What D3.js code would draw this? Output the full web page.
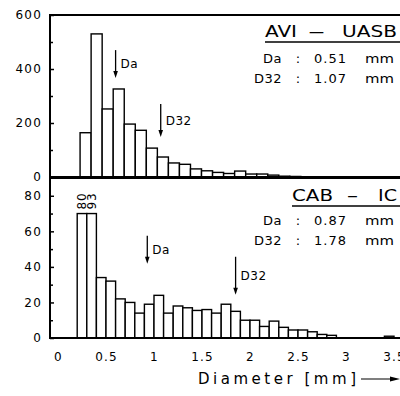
<!DOCTYPE html>
<html>
<head>
<meta charset="utf-8">
<script src="https://cdn.jsdelivr.net/npm/d3@7"></script>
<style>
  body { margin: 0; background: #fff; }
  text { font-family: "DejaVu Sans", sans-serif; fill: #000; }
</style>
</head>
<body>
<div id="chart"></div>
<script>
// ---- data ----
// AVI - UASB histogram (top panel)
const topBinStart = 0.23, topBinWidth = 0.115;
const topCounts = [164, 530, 252, 326, 196, 173, 107, 74, 52, 47, 30, 23, 17, 13, 22, 11, 11, 7, 3, 2, 1];
const topStats = [["Da", "0.51"], ["D32", "1.07"]];
const topMarks = [{ name: "Da", d: 0.6, tail: 470, tip: 367 }, { name: "D32", d: 1.07, tail: 270, tip: 148 }];

// CAB - IC histogram (bottom panel)
const botBinStart = 0.2, botBinWidth = 0.1;
const botCounts = [80, 93, 34, 32, 22, 20, 14, 19, 24, 14, 18, 17, 15.5, 16, 14, 19, 15, 10, 10, 6.5, 9.5, 6, 4.5, 4.5, 3.5, 2, 1.5, 0, 0, 0, 0, 0, 1];
const botCap = 70;
const botStats = [["Da", "0.87"], ["D32", "1.78"]];
const botMarks = [{ name: "Da", d: 0.93, tail: 57.5, tip: 41.8 }, { name: "D32", d: 1.85, tail: 45.7, tip: 24.3 }];

const xTicks = [0, 0.5, 1, 1.5, 2, 2.5, 3, 3.5];
const topYTicks = [0, 200, 400, 600], topYMinor = [100, 300, 500];
const botYTicks = [0, 20, 40, 60, 80], botYMinor = [10, 30, 50, 70];

// ---- canvas ----
const W = 400, H = 396;
const svg = d3.select('#chart').append('svg').attr('width', W).attr('height', H);

const left = 50, right = 404;
const x = d3.scaleLinear().domain([0, 3.5]).range([58, 394]);
const yTop = d3.scaleLinear().domain([0, 600]).range([177, 15]);
const yBot = d3.scaleLinear().domain([0, 90]).range([338, 178]);

function yAxis(y, ticks, minor) {
  svg.append('g')
    .attr('transform', `translate(${left},0)`)
    .call(d3.axisLeft(y).tickValues(ticks).tickSizeInner(-4).tickSizeOuter(0).tickPadding(8))
    .call(g => g.select('.domain').remove())
    .call(g => g.selectAll('line').attr('stroke-width', 1.5))
    .call(g => g.selectAll('text').attr('font-size', 12).attr('letter-spacing', 1.2).attr('font-family', 'DejaVu Sans'));
  svg.append('g')
    .attr('transform', `translate(${left},0)`)
    .call(d3.axisLeft(y).tickValues(minor).tickSizeInner(-3).tickSizeOuter(0).tickFormat(''))
    .call(g => g.select('.domain').remove())
    .call(g => g.selectAll('line').attr('stroke-width', 1.5));
}

function bars(y, counts, start, width, cap) {
  const data = counts.map((c, i) => ({ x0: start + i * width, c: c })).filter(d => d.c > 0);
  svg.append('g').selectAll('rect').data(data).join('rect')
    .attr('x', d => x(d.x0))
    .attr('width', d => x(d.x0 + width) - x(d.x0))
    .attr('y', d => y(cap ? Math.min(d.c, cap) : d.c))
    .attr('height', d => y(0) - y(cap ? Math.min(d.c, cap) : d.c))
    .attr('fill', '#fff').attr('stroke', '#000').attr('stroke-width', 1.4);
  return data;
}

function arrow(x1, y1, y2) {
  svg.append('line').attr('x1', x1).attr('x2', x1).attr('y1', y1).attr('y2', y2 - 5)
    .attr('stroke', '#000').attr('stroke-width', 1.3);
  svg.append('path').attr('d', `M${x1 - 2.3},${y2 - 7}L${x1 + 2.3},${y2 - 7}L${x1},${y2}Z`).attr('fill', '#000');
}

function marks(y, list) {
  list.forEach(m => {
    arrow(x(m.d), y(m.tail), y(m.tip));
    svg.append('text').attr('x', x(m.d) + 5).attr('y', (y(m.tail) + y(m.tip)) / 2)
      .attr('dy', '0.35em').attr('font-size', 12).attr('letter-spacing', 0.5).text(m.name);
  });
}

function stats(list, base) {
  list.forEach((s, i) => {
    const yy = base + i * 20;
    svg.append('text').attr('x', 282).attr('y', yy).attr('text-anchor', 'end').attr('font-size', 13).attr('letter-spacing', 0.5).text(s[0]);
    svg.append('text').attr('x', 298).attr('y', yy).attr('text-anchor', 'middle').attr('font-size', 13).text(':');
    svg.append('text').attr('x', 347).attr('y', yy).attr('text-anchor', 'end').attr('font-size', 13).attr('letter-spacing', 1).text(s[1]);
    svg.append('text').attr('x', 365).attr('y', yy).attr('font-size', 13).attr('textLength', 29).attr('lengthAdjust', 'spacingAndGlyphs').text('mm');
  });
}

function title(parts, base) {
  parts.forEach(p => {
    svg.append('text').attr('x', p[1]).attr('y', base).attr('font-size', 16)
      .attr('textLength', p[2] - p[1]).attr('lengthAdjust', 'spacingAndGlyphs').text(p[0]);
  });
  svg.append('line').attr('x1', parts[0][1]).attr('x2', W + 2).attr('y1', base + 5).attr('y2', base + 5)
    .attr('stroke', '#000').attr('stroke-width', 1.5);
}

// ---- top panel ----
bars(yTop, topCounts, topBinStart, topBinWidth);
yAxis(yTop, topYTicks, topYMinor);
marks(yTop, topMarks);
stats(topStats, 63);
title([['AVI', 265, 297], ['–', 308, 325], ['UASB', 342, 397]], 37);

// ---- bottom panel ----
const botData = bars(yBot, botCounts, botBinStart, botBinWidth, botCap);
yAxis(yBot, botYTicks, botYMinor);
marks(yBot, botMarks);
stats(botStats, 225);
title([['CAB', 292, 333], ['–', 347, 358], ['IC', 378, 397]], 201);

// clipped bars get their value written above
botData.filter(d => d.c > botCap).forEach(d => {
  const cx = x(d.x0 + botBinWidth / 2);
  svg.append('text').attr('transform', `translate(${cx},${yBot(botCap) - 4}) rotate(-90)`)
    .attr('dy', '0.36em').attr('font-size', 12).attr('letter-spacing', 0.8).text(d.c);
});

// frames
[[15, 177], [178, 338]].forEach(r => {
  svg.append('path').attr('d', `M${right},${r[0]}H${left}V${r[1]}H${right}`)
    .attr('fill', 'none').attr('stroke', '#000').attr('stroke-width', 2);
});

// x axis (labels only)
svg.append('g')
  .attr('transform', 'translate(0,338)')
  .call(d3.axisBottom(x).tickValues(xTicks).tickSize(0).tickPadding(14).tickFormat(d3.format('')))
  .call(g => g.select('.domain').remove())
  .call(g => g.selectAll('text').attr('font-size', 12).attr('letter-spacing', 1.2).attr('font-family', 'DejaVu Sans'));

svg.append('text').attr('x', 198).attr('y', 384).attr('font-size', 15)
  .attr('textLength', 158).attr('lengthAdjust', 'spacing').text('Diameter [mm]');
svg.append('line').attr('x1', 361).attr('x2', 394).attr('y1', 379).attr('y2', 379).attr('stroke', '#000').attr('stroke-width', 1.2);
svg.append('path').attr('d', 'M390,376.5L400,379L390,381.5Z').attr('fill', '#000');
</script>
</body>
</html>
